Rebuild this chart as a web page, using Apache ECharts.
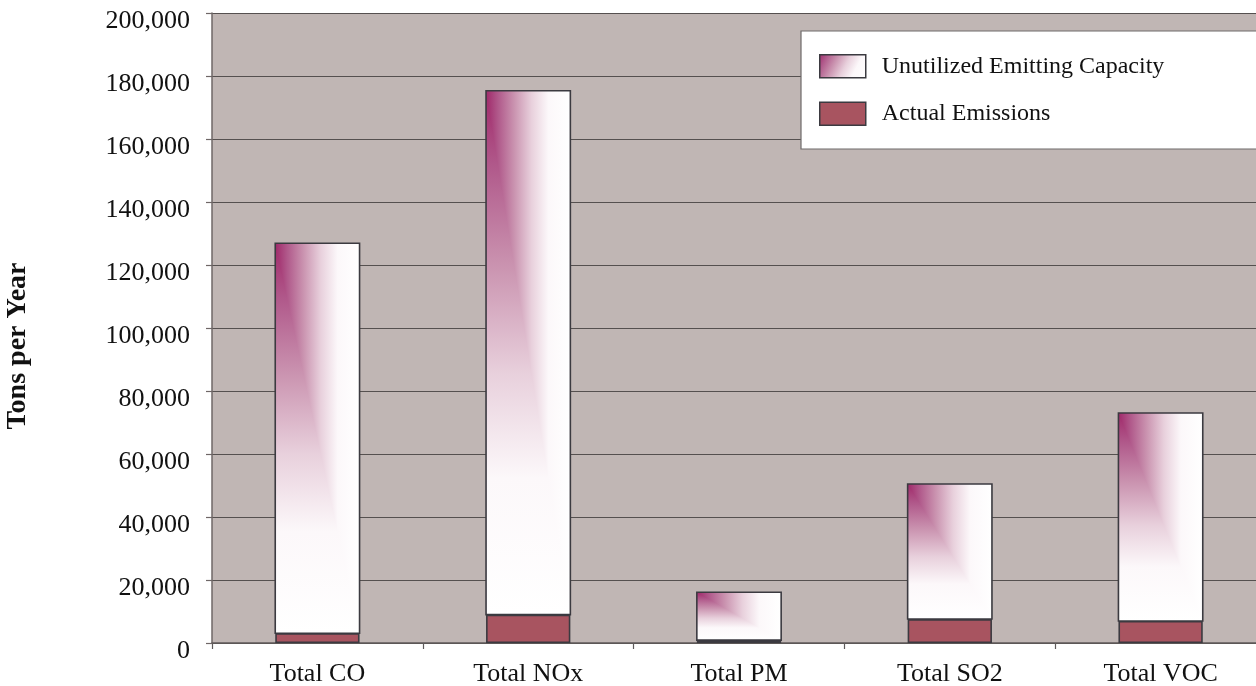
<!DOCTYPE html>
<html>
<head>
<meta charset="utf-8">
<script src="https://cdn.jsdelivr.net/npm/echarts@6/dist/echarts.min.js"></script>
<style>
  html, body { margin: 0; padding: 0; background: #ffffff; }
  #chart { width: 1256px; height: 686px; }
</style>
</head>
<body>
<div id="chart"></div>
<script>
// Emissions by pollutant, tons per year
const categories = ['Total CO', 'Total NOx', 'Total PM', 'Total SO2', 'Total VOC'];
const actualEmissions = [3100, 9000, 900, 7600, 7000];
const unutilizedCapacity = [123800, 166300, 15200, 42900, 66000];
const yTicks = { min: 0, max: 200000, interval: 20000 };

const SERIF = '"Liberation Serif", "Times New Roman", serif';
const BORDER = '#3b3a40';
const ACTUAL_COLOR = '#a85460';

// colour ramp from the top-left corner out to white
const rampStops = [
  { offset: 0.00, color: '#a0296a' },
  { offset: 0.14, color: '#b0588a' },
  { offset: 0.34, color: '#cb95b1' },
  { offset: 0.54, color: '#e8d0dc' },
  { offset: 0.74, color: '#fcf8fa' },
  { offset: 1.00, color: '#ffffff' }
];

const chart = echarts.init(document.getElementById('chart'), null, { renderer: 'canvas' });

// "from corner" fill: shade = ramp(max(x / w, y / h)):
// a horizontal ramp over the whole box, then a vertical ramp on the lower-left triangle
function renderCapacity(params, api) {
  const idx = api.value(0);
  const base = api.value(1);
  const top = base + api.value(2);
  const p0 = api.coord([idx, base]);
  const p1 = api.coord([idx, top]);
  const w = api.size([1, 0])[0] * 0.4;
  const x0 = p0[0] - w / 2, x1 = p0[0] + w / 2;
  const yTop = p1[1], yBot = p0[1];
  return {
    type: 'group',
    children: [
      {
        type: 'rect',
        shape: { x: x0, y: yTop, width: w, height: yBot - yTop },
        style: { fill: new echarts.graphic.LinearGradient(0, 0, 1, 0, rampStops), stroke: null }
      },
      {
        type: 'polygon',
        shape: { points: [[x0, yTop], [x0, yBot], [x1, yBot]] },
        style: { fill: new echarts.graphic.LinearGradient(0, 0, 0, 1, rampStops), stroke: null }
      },
      {
        type: 'rect',
        shape: { x: x0, y: yTop, width: w, height: yBot - yTop },
        style: { fill: null, stroke: BORDER, lineWidth: 1.6 }
      }
    ]
  };
}

const option = {
  animation: false,
  backgroundColor: '#ffffff',
  grid: {
    left: 212, top: 13, width: 1054, height: 630,
    outerBoundsMode: 'none',
    containLabel: false,
    show: true, backgroundColor: '#c0b6b4', borderWidth: 0
  },
  legend: {
    orient: 'vertical',
    left: 801, top: 31,
    padding: [23, 300, 23, 18],
    itemGap: 23,
    itemWidth: 46, itemHeight: 23,
    backgroundColor: '#ffffff',
    borderColor: '#6e6a6a', borderWidth: 1.2,
    textStyle: { fontFamily: SERIF, fontSize: 24, color: '#111', padding: [0, 0, 0, 11] },
    data: [
      {
        name: 'Unutilized Emitting Capacity', icon: 'rect',
        itemStyle: {
          color: new echarts.graphic.LinearGradient(0, 0, 1, 1, rampStops),
          borderColor: BORDER, borderWidth: 1.5
        }
      },
      {
        name: 'Actual Emissions', icon: 'rect',
        itemStyle: { color: ACTUAL_COLOR, borderColor: BORDER, borderWidth: 1.5 }
      }
    ]
  },
  xAxis: {
    type: 'category',
    data: categories,
    boundaryGap: true,
    axisLine: { show: true, lineStyle: { color: '#5f5a5a', width: 1.5 } },
    axisTick: { show: true, length: 6, lineStyle: { color: '#5f5a5a', width: 1.2 } },
    axisLabel: { fontFamily: SERIF, fontSize: 26, color: '#111', margin: 18 },
    splitLine: { show: false }
  },
  yAxis: {
    type: 'value',
    min: yTicks.min, max: yTicks.max, interval: yTicks.interval,
    name: 'Tons per Year',
    nameLocation: 'middle',
    nameGap: 180,
    nameRotate: 90,
    nameTextStyle: {
      fontFamily: SERIF, fontSize: 28, fontWeight: 'bold', color: '#111',
      padding: [0, 36, 0, 0]
    },
    axisLine: { show: true, lineStyle: { color: '#6f6767', width: 1.5 } },
    axisTick: { show: true, length: 6, lineStyle: { color: '#6f6767', width: 1.2 } },
    axisLabel: {
      fontFamily: SERIF, fontSize: 26, color: '#111', margin: 22,
      verticalAlign: 'top', lineHeight: 16,
      formatter: v => v.toLocaleString('en-US')
    },
    splitLine: { show: true, lineStyle: { color: '#55504f', width: 1.2 } }
  },
  series: [
    {
      name: 'Actual Emissions',
      type: 'bar',
      barWidth: '40%',
      data: actualEmissions,
      itemStyle: { color: ACTUAL_COLOR, borderColor: BORDER, borderWidth: 1.6 },
      z: 3
    },
    {
      name: 'Unutilized Emitting Capacity',
      type: 'custom',
      renderItem: renderCapacity,
      encode: { x: 0, y: [1, 2] },
      data: categories.map((c, i) => [i, actualEmissions[i], unutilizedCapacity[i]]),
      itemStyle: { color: '#cb95b1' },
      z: 3
    }
  ]
};

chart.setOption(option);
</script>
</body>
</html>
